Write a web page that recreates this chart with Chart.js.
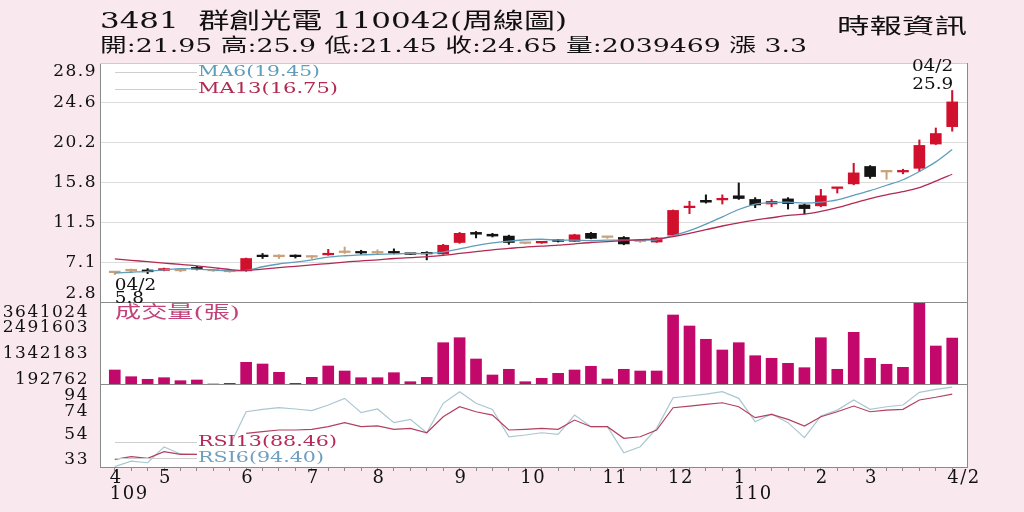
<!DOCTYPE html>
<html>
<head>
<meta charset="utf-8">
<script src="https://cdn.jsdelivr.net/npm/chart.js@4.4.1/dist/chart.umd.min.js"></script>
<style>
  html, body { margin: 0; padding: 0; background: #f9e9ee; }
</style>
</head>
<body>
<canvas id="chart" width="1024" height="512"></canvas>
<script>
// weekly candles, 109/4 .. 110/4/2
const open = [6.0, 6.2, 6.3, 6.25, 6.2, 6.5, 6.2, 6.1, 6.2, 7.8,
  7.75, 7.8, 7.7, 7.95, 8.2, 8.25, 8.15, 8.3, 8.05, 8.15,
  8.05, 9.3, 10.4, 10.2, 10.0, 9.2, 9.25, 9.5, 9.42, 10.3,
  9.85, 9.85, 9.4, 9.35, 10.1, 13.1, 13.9, 13.95, 14.4, 14.0,
  13.5, 14.06, 13.4, 13.3, 15.2, 15.7, 17.6, 17.0, 17.0, 17.4,
  20.05, 21.95];
const high = [6.1, 6.4, 6.45, 6.5, 6.3, 6.7, 6.25, 6.15, 7.6, 8.1,
  7.95, 7.95, 7.85, 8.55, 8.8, 8.45, 8.5, 8.6, 8.1, 8.3,
  9.1, 10.4, 10.5, 10.3, 10.1, 9.25, 9.35, 9.6, 10.2, 10.4,
  9.95, 9.95, 9.5, 9.85, 12.85, 13.8, 14.5, 14.5, 15.8, 14.2,
  14.0, 14.2, 13.5, 15.1, 15.3, 17.95, 17.7, 17.1, 17.3, 20.5,
  21.8, 25.9];
const low = [5.8, 6.1, 5.9, 6.2, 6.1, 6.3, 6.15, 6.05, 6.15, 7.55,
  7.55, 7.6, 7.55, 7.9, 8.1, 8.0, 8.0, 8.05, 8.0, 7.4,
  8.0, 9.2, 9.8, 9.9, 9.1, 9.15, 9.2, 9.35, 9.4, 9.7,
  9.75, 9.05, 9.3, 9.3, 10.0, 12.45, 13.6, 13.5, 14.0, 13.1,
  13.2, 12.95, 12.4, 13.2, 14.7, 15.6, 16.3, 16.2, 16.8, 17.05,
  20.0, 21.45];
const close = [6.0, 6.2, 6.1, 6.45, 6.2, 6.4, 6.2, 6.1, 7.55, 7.75,
  7.75, 7.75, 7.7, 8.05, 8.2, 8.15, 8.15, 8.15, 8.0, 8.05,
  9.0, 10.3, 10.2, 10.0, 9.3, 9.2, 9.3, 9.42, 10.14, 9.75,
  9.85, 9.14, 9.4, 9.8, 12.8, 13.2, 13.7, 14.05, 14.1, 13.4,
  13.8, 13.55, 13.0, 14.4, 15.25, 16.9, 16.5, 17.0, 17.05, 19.9,
  21.2, 24.65];
const volume = [622000, 324000, 209000, 280000, 147000, 178000, 0, 30000, 963000, 888000,
  519000, 31000, 297000, 799000, 577000, 280000, 280000, 502000, 102000, 297000,
  1834000, 2056000, 1110000, 400000, 653000, 102000, 253000, 475000, 622000, 786000,
  222000, 653000, 577000, 577000, 3064000, 2575000, 1985000, 1510000, 1834000, 1257000,
  1141000, 919000, 724000, 2056000, 653000, 2295000, 1141000, 875000, 741000, 3641024,
  1687000, 2039469];
const ma6 = [5.95, 6.05, 6.15, 6.3, 6.45, 6.4, 6.3, 6.2, 6.25, 6.65,
  6.95, 7.15, 7.4, 7.7, 7.85, 7.95, 8.0, 8.05, 8.1, 8.1,
  8.25, 8.6, 8.95, 9.25, 9.45, 9.6, 9.65, 9.55, 9.55, 9.5,
  9.55, 9.55, 9.55, 9.6, 10.05, 10.6, 11.3, 12.1, 12.9, 13.5,
  13.65, 13.7, 13.6, 13.7, 13.95, 14.45, 14.95, 15.55, 16.15, 17.05,
  18.1, 19.45];
const ma13 = [7.5, 7.35, 7.2, 7.05, 6.9, 6.75, 6.55, 6.35, 6.25, 6.4,
  6.55, 6.7, 6.85, 7.0, 7.15, 7.3, 7.4, 7.55, 7.65, 7.75,
  7.9, 8.1, 8.3, 8.5, 8.65, 8.8, 8.9, 9.0, 9.15, 9.3,
  9.4, 9.5, 9.6, 9.7, 9.95, 10.3, 10.7, 11.1, 11.45, 11.75,
  12.0, 12.25, 12.4, 12.7, 13.1, 13.6, 14.1, 14.5, 14.85, 15.3,
  16.0, 16.75];
const rsi6 = [27.3, 32, 30.6, 44, 38, 37.7, null, 45, 73.6, 75.6,
  77, 75.9, 74.5, 79.3, 84.9, 72.8, 75.9, 64.4, 67.2, 55.9,
  80.7, 90.5, 80.7, 75.6, 52.5, 54, 55.9, 54.6, 70.8, 61,
  61, 39, 44.1, 59.6, 85.4, 86.9, 88.5, 90.5, 84.9, 65.2,
  71.7, 64.4, 51.7, 70, 75, 83.5, 75.6, 77.8, 79.3, 90,
  92.5, 94.4];
const rsi13 = [33.5, 35.7, 34.3, 39.9, 37.7, 37.7, null, null, 55.4, 56.8,
  58.2, 58.2, 58.8, 61, 64.4, 61, 61.6, 58.8, 59.6, 55.9,
  69.4, 77.8, 73.6, 70.8, 58.2, 58.8, 59.6, 58.8, 66.6, 61,
  61, 51.2, 52.5, 58.2, 77, 78.4, 79.8, 81.2, 77.8, 68.6,
  71.4, 67.2, 61.6, 69.4, 73.6, 78.4, 73.6, 75, 75.6, 83.5,
  85.8, 88.46];

const xLabels = [['4', '109'], '', '', '5', '', '', '', '', '6', '',
  '', '', '7', '', '', '', '8', '', '', '',
  '', '9', '', '', '', '10', '', '', '', '',
  '11', '', '', '', '12', '', '', '', ['1', '110'], '',
  '', '', '', '2', '', '', '3', '', '', '',
  '', '4/2'];
const priceTicks = [2.8, 7.1, 11.5, 15.8, 20.2, 24.6, 28.9];
const volumeTicks = [192762, 1342183, 2491603, 3641024];
const rsiTicks = [33, 54, 74, 94];

const title = '3481  群創光電 110042(周線圖)';
const quote = '開:21.95 高:25.9 低:21.45 收:24.65 量:2039469 漲 3.3';
const source = '時報資訊';
const hiDate = '04/2';
const loDate = '04/2';

const RED = '#d0102c';
const BLACK = '#141414';
const DOJI = '#c9a27c';
const VOL = '#c2086a';
const MA6_C = '#5f9dba';
const MA13_C = '#b22a52';
const RSI6_C = '#a9c7d2';
const RSI13_C = '#b3405f';
const SERIF = '"DejaVu Serif", "Noto Sans CJK TC", serif';

const idx = open.map((_, i) => i);
const pts = arr => arr.map((v, i) => ({ x: i, y: v }));
const candleColor = open.map((o, i) => close[i] > o ? RED : close[i] < o ? BLACK : DOJI);

function drawText(ctx, text, x, y, opt) {
  ctx.save();
  ctx.letterSpacing = '0px';
  ctx.font = opt.font;
  ctx.fillStyle = opt.color || '#111';
  ctx.textBaseline = 'middle';
  ctx.textAlign = 'left';
  const w = ctx.measureText(text).width;
  const sx = opt.width ? opt.width / w : (opt.sx || 1);
  const left = opt.align === 'right' ? x - w * sx : x;
  ctx.translate(left, y);
  ctx.scale(sx, 1);
  ctx.fillText(text, 0, 0);
  ctx.restore();
}

function hline(ctx, x0, x1, y, color) {
  ctx.strokeStyle = color;
  ctx.beginPath();
  ctx.moveTo(x0, Math.round(y) + 0.5);
  ctx.lineTo(x1, Math.round(y) + 0.5);
  ctx.stroke();
}

const frame = {
  id: 'frame',
  beforeDraw(chart) {
    const { ctx, chartArea: a } = chart;
    ctx.save();
    ctx.fillStyle = '#f9e9ee';
    ctx.fillRect(0, 0, chart.width, chart.height);
    ctx.fillStyle = '#ffffff';
    ctx.fillRect(a.left, a.top, a.right - a.left, a.bottom - a.top);
    ctx.restore();
    ctx.letterSpacing = '1.5px';
  },
  afterDatasetsDraw(chart) {
    const { ctx, chartArea: a, scales } = chart;
    ctx.save();
    ctx.lineWidth = 1;
    hline(ctx, a.left, a.right, a.top, '#d6c9ce');
    hline(ctx, a.left, a.right, scales.yPrice.bottom, '#8a8a8a');
    hline(ctx, a.left, a.right, scales.yVol.bottom, '#8a8a8a');
    ctx.strokeStyle = '#8a8a8a';
    ctx.beginPath();
    ctx.moveTo(Math.round(a.right) + 0.5, a.top);
    ctx.lineTo(Math.round(a.right) + 0.5, a.bottom);
    ctx.stroke();
    ctx.restore();
  },
  afterDraw(chart) {
    const { ctx, chartArea: a, scales } = chart;
    const x = scales.x, yp = scales.yPrice, yv = scales.yVol, yr = scales.yRsi;
    ctx.save();
    drawText(ctx, title, 100, 22, { font: '22px ' + SERIF, width: 467 });
    drawText(ctx, quote, 100, 47, { font: '19px ' + SERIF, width: 707 });
    drawText(ctx, source, 837, 28, { font: '21px ' + SERIF, width: 130 });

    // legends
    ctx.lineWidth = 1;
    const lx0 = a.left + 15, lx1 = a.left + 97, tx = a.left + 98;
    hline(ctx, lx0, lx1, yp.top + 9, '#cfcfcf');
    hline(ctx, lx0, lx1, yp.top + 26, '#cfcfcf');
    drawText(ctx, 'MA6(19.45)', tx, yp.top + 9, { font: '15px ' + SERIF, color: MA6_C, width: 122 });
    drawText(ctx, 'MA13(16.75)', tx, yp.top + 26, { font: '15px ' + SERIF, color: MA13_C, width: 140 });
    drawText(ctx, '成交量(張)', lx0, yv.top + 12, { font: '17px ' + SERIF, color: '#c2437a', width: 125 });
    hline(ctx, lx0, lx1, yr.top + 58, '#cfcfcf');
    hline(ctx, lx0, lx1, yr.top + 74, '#cfcfcf');
    drawText(ctx, 'RSI13(88.46)', tx, yr.top + 58, { font: '15px ' + SERIF, color: '#b5285a', width: 139 });
    drawText(ctx, 'RSI6(94.40)', tx, yr.top + 74, { font: '15px ' + SERIF, color: '#6f9fc0', width: 126 });

    // high / low markers
    const hi = high.indexOf(Math.max(...high));
    const lo = low.indexOf(Math.min(...low));
    const hx = x.getPixelForValue(hi), hy = yp.getPixelForValue(high[hi]);
    drawText(ctx, hiDate, hx + 1, hy - 24, { font: '16px ' + SERIF, sx: 1.15, align: 'right' });
    drawText(ctx, String(high[hi]), hx + 1, hy - 6, { font: '16px ' + SERIF, sx: 1.15, align: 'right' });
    const lx = x.getPixelForValue(lo), ly = yp.getPixelForValue(low[lo]);
    drawText(ctx, loDate, lx, ly + 11, { font: '16px ' + SERIF, sx: 1.15 });
    drawText(ctx, String(low[lo]), lx, ly + 24, { font: '16px ' + SERIF, sx: 1.15 });
    ctx.restore();
  }
};

const yWidth = s => { s.width = 100; s.paddingTop = 0; s.paddingBottom = 0; };

new Chart(document.getElementById('chart'), {
  type: 'bar',
  data: {
    datasets: [
      { type: 'line', data: pts(ma13), yAxisID: 'yPrice', borderColor: MA13_C, borderWidth: 1.3, pointRadius: 0, tension: 0.3 },
      { type: 'line', data: pts(ma6), yAxisID: 'yPrice', borderColor: MA6_C, borderWidth: 1.3, pointRadius: 0, tension: 0.3 },
      { data: idx.map(i => ({ x: i, y: [low[i], high[i]] })), yAxisID: 'yPrice', backgroundColor: candleColor, barThickness: 1.4, grouped: false },
      { data: idx.map(i => ({ x: i, y: [open[i], close[i]] })), yAxisID: 'yPrice', backgroundColor: candleColor, barThickness: 11, minBarLength: 1.6, grouped: false },
      { data: pts(volume), yAxisID: 'yVol', backgroundColor: VOL, barThickness: 11, grouped: false },
      { type: 'line', data: pts(rsi13), yAxisID: 'yRsi', borderColor: RSI13_C, borderWidth: 1.2, pointRadius: 0, spanGaps: false },
      { type: 'line', data: pts(rsi6), yAxisID: 'yRsi', borderColor: RSI6_C, borderWidth: 1.2, pointRadius: 0, spanGaps: false }
    ]
  },
  options: {
    responsive: false,
    animation: false,
    events: [],
    layout: { padding: { top: 63, right: 57, bottom: 0, left: 0 } },
    plugins: { legend: { display: false }, tooltip: { enabled: false } },
    scales: {
      x: {
        type: 'linear',
        min: -0.9,
        max: 51.9,
        offset: false,
        afterBuildTicks: s => { s.ticks = idx.map(v => ({ value: v })); },
        afterFit: s => { s.height = 45; s.paddingLeft = 0; s.paddingRight = 0; },
        grid: { display: true, offset: false, drawOnChartArea: false, drawTicks: true, tickLength: 4, color: '#8a8a8a' },
        border: { color: '#8a8a8a' },
        ticks: {
          autoSkip: false, maxRotation: 0, minRotation: 0, padding: 0,
          align: 'start', labelOffset: -5, color: '#111',
          font: { family: SERIF, size: 18, lineHeight: 0.85 },
          callback: v => xLabels[v]
        }
      },
      yRsi: {
        type: 'linear', position: 'left', stack: 'panels', stackWeight: 83,
        min: 27, max: 97,
        afterBuildTicks: s => { s.ticks = rsiTicks.map(v => ({ value: v })); },
        afterFit: yWidth,
        grid: { display: false },
        border: { color: '#8a8a8a' },
        ticks: {
          autoSkip: false, padding: 3, color: '#111', font: { family: SERIF, size: 17, lineHeight: 1.0 },
          callback: v => v === rsiTicks[rsiTicks.length - 1] ? ['', String(v)] : String(v)
        }
      },
      yVol: {
        type: 'linear', position: 'left', stack: 'panels', stackWeight: 82,
        min: 0, max: 3641024,
        afterBuildTicks: s => { s.ticks = volumeTicks.map(v => ({ value: v })); },
        afterFit: yWidth,
        grid: { display: false },
        border: { color: '#8a8a8a' },
        ticks: {
          autoSkip: false, padding: 3, color: '#111', font: { family: SERIF, size: 17 },
          callback: v => v === volumeTicks[volumeTicks.length - 1] ? ['', String(v)] : String(v)
        }
      },
      yPrice: {
        type: 'linear', position: 'left', stack: 'panels', stackWeight: 239,
        min: 2.8, max: 28.9,
        afterBuildTicks: s => { s.ticks = priceTicks.map(v => ({ value: v })); },
        afterFit: yWidth,
        grid: { color: '#dcdcdc', drawTicks: false },
        border: { color: '#8a8a8a' },
        ticks: {
          autoSkip: false, padding: 3, color: '#111', font: { family: SERIF, size: 17, lineHeight: 1.0 },
          callback: v => v === 28.9 ? ['', '28.9'] : v === 2.8 ? ['2.8', ''] : String(v)
        }
      }
    }
  },
  plugins: [frame]
});
</script>
</body>
</html>
